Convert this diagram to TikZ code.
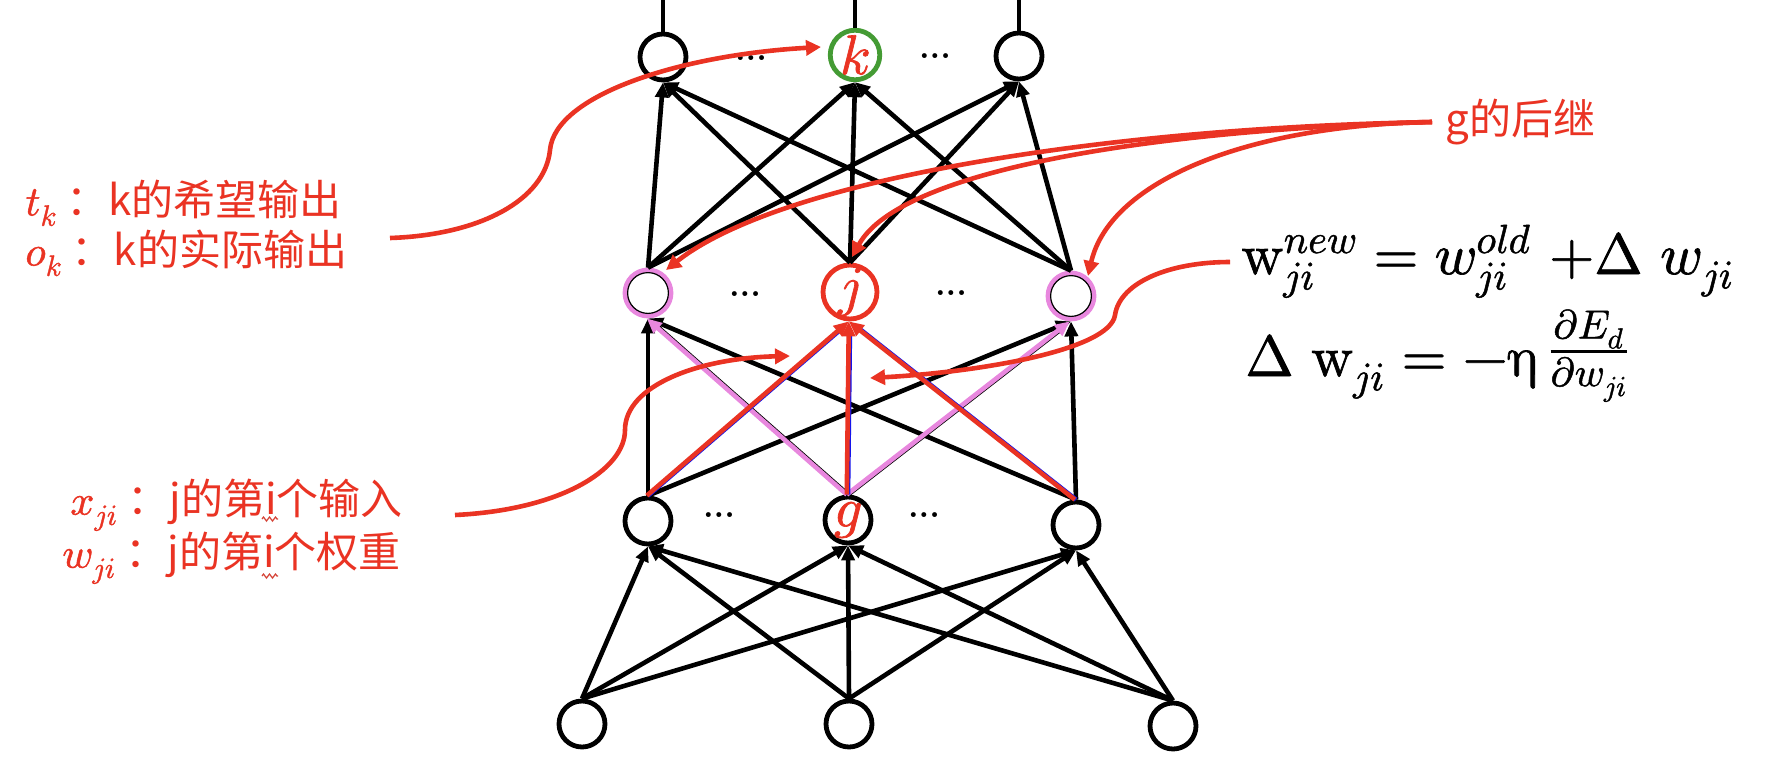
\documentclass[tikz,border=0pt]{standalone}
\usepackage{fontspec}
\usepackage{unicode-math}
\setmathfont{Latin Modern Math}[FakeBold=1.2]
\usetikzlibrary{arrows.meta,decorations.pathmorphing}
\newfontfamily\cjk{Noto Sans CJK SC}
\definecolor{myred}{RGB}{234,51,35}
\definecolor{mypink}{RGB}{232,135,222}
\definecolor{mygreen}{RGB}{68,155,52}
\definecolor{myblue}{RGB}{20,20,235}
\begin{document}
\begin{tikzpicture}[x=0.5pt,y=-0.5pt,
  neuron/.style={circle,draw=black,line width=2.4pt,minimum size=23pt,inner sep=0pt,fill=white,font=\fontsize{28}{28}\selectfont},
  edge/.style={line width=2.3pt,-{Triangle[length=7.5pt,width=6.5pt]}},
  base/.style={line width=2.3pt,shorten >=6pt},
  ann/.style={myred,line width=2.3pt,-{Triangle[length=7.5pt,width=7.5pt]}},
  lbl/.style={myred,font=\cjk\fontsize{21}{25}\selectfont,anchor=west,inner sep=0pt},
  dotlbl/.style={font=\bfseries\fontsize{17}{17}\selectfont,inner sep=0pt},
  squig/.style={myred!80!gray,line width=0.6pt,decorate,decoration={zigzag,segment length=3pt,amplitude=1pt}}
]
\useasboundingbox[fill=white] (0,0) rectangle (1776,782);
\coordinate (top) at (0,0);
% nodes
\node[neuron] (i1) at (582,724) {};
\node[neuron] (i2) at (849,724) {};
\node[neuron] (i3) at (1173,726) {};
\node[neuron] (g1) at (648,521) {};
\node[neuron] (g) at (848,520) {\color{myred}$g$};
\node[neuron] (g3) at (1076,525) {};
\node[neuron,draw=mypink] (h1) at (648,293) {};
\node[neuron,draw=myred] (j) at (850,292) {\color{myred}$j$};
\node[neuron,draw=mypink] (h3) at (1071,296) {};
\node[neuron] (t1) at (663,57) {};
\node[neuron,draw=mygreen] (k) at (855,55) {\color{myred}$k$};
\node[neuron] (t3) at (1019,56) {};
\draw[line width=0.6pt] (h1) circle (10.2pt);
\draw[line width=0.6pt] (h3) circle (10.2pt);
% dots
\node[dotlbl] (d1) at (751,58) {...};
\node[dotlbl] (d2) at (935,56) {...};
\node[dotlbl] (d3) at (745,294) {...};
\node[dotlbl] (d4) at (951,293) {...};
\node[dotlbl] (d5) at (719,515) {...};
\node[dotlbl] (d6) at (924,515) {...};
% outputs upward
\foreach \n in {t1,k,t3} \draw[line width=2.3pt] (\n.north) -- (\n.north |- top);
% input -> g layer
\foreach \a in {i1,i2,i3} \foreach \b in {g1,g,g3} \draw[edge] (\a.north) -- (\b.south);
% hidden -> top
\foreach \a in {h1,j,h3} \foreach \b in {t1,k,t3} \draw[edge] (\a.north) -- (\b.south);
% g layer -> hidden (black)
\draw[edge] (g1.north) -- (h1.south);
\draw[edge] (g1.north) -- (h3.south);
\draw[edge] (g3.north) -- (h1.south);
\draw[edge] (g3.north) -- (h3.south);
% pink
\draw[base] (g.north) -- (h1.south);
\draw[base] (g.north) -- (h3.south);
\draw[edge,mypink,transform canvas={xshift=-0.6pt}] (g.north) -- (h1.south);
\draw[edge,mypink,transform canvas={xshift=-0.6pt}] (g.north) -- (h3.south);
% red
\draw[base,myblue] (g1.north) -- (j.south);
\draw[base,myblue] (g.north) -- (j.south);
\draw[base,myblue] (g3.north) -- (j.south);
\draw[edge,myred,transform canvas={xshift=-0.6pt}] (g1.north) -- (j.south);
\draw[edge,myred,transform canvas={xshift=-0.6pt}] (g.north) -- (j.south);
\draw[edge,myred,transform canvas={xshift=-0.6pt}] (g3.north) -- (j.south);
% labels
\node[lbl] (tk) at (25,203) {$t_k$ ：k的希望输出};
\node[lbl] (ok) at (25,253) {$o_k$ ：k的实际输出};
\node[lbl] (xji) at (70,505) {$x_{ji}$ ：j的第i个输入};
\node[lbl] (wji) at (62,558) {$w_{ji}$ ：j的第i个权重};
\draw[squig] (262,519) -- (278,519);
\draw[squig] (262,576) -- (278,576);
\node[lbl] (gs) at (1445,122) {g的后继};
\node[anchor=base west,inner sep=0pt,font=\fontsize{29}{32}\selectfont] (eq1) at (1241,274)
  {$\symup{w}_{ji}^{new} = w_{ji}^{old}\ {+}\Delta\ w_{ji}$};
\node[anchor=base west,inner sep=0pt,font=\fontsize{29}{32}\selectfont] (eq2) at (1245,376)
  {$\Delta\ \symup{w}_{ji} = -\upeta\,\raisebox{5pt}{$\frac{\partial E_d}{\partial w_{ji}}$}$};
% annotation curves
\coordinate (a1) at (390,238);
\coordinate (a1e) at (821,47);
\draw[ann] (a1) .. controls (480,235) and (545,200) .. (550,150) .. controls (555,95) and (680,55) .. (a1e);
\coordinate (a2) at (455,515);
\coordinate (a2e) at (790,356);
\draw[ann] (a2) .. controls (560,510) and (625,470) .. (625,430) .. controls (625,385) and (700,358) .. (a2e);
\coordinate (s) at (1432,122);
\coordinate (sh1) at (666,270);
\coordinate (sj) at (852,257);
\coordinate (sh3) at (1088,276);
\draw[ann] (s) .. controls (1100,128) and (780,180) .. (sh1);
\draw[ann] (s) .. controls (1150,130) and (900,170) .. (sj);
\draw[ann] (s) .. controls (1250,125) and (1110,180) .. (sh3);
\coordinate (e1) at (1230,262);
\coordinate (e1e) at (870,378);
\draw[ann] (e1) .. controls (1170,262) and (1120,282) .. (1115,315) .. controls (1110,350) and (980,372) .. (e1e);
\end{tikzpicture}
\end{document}
